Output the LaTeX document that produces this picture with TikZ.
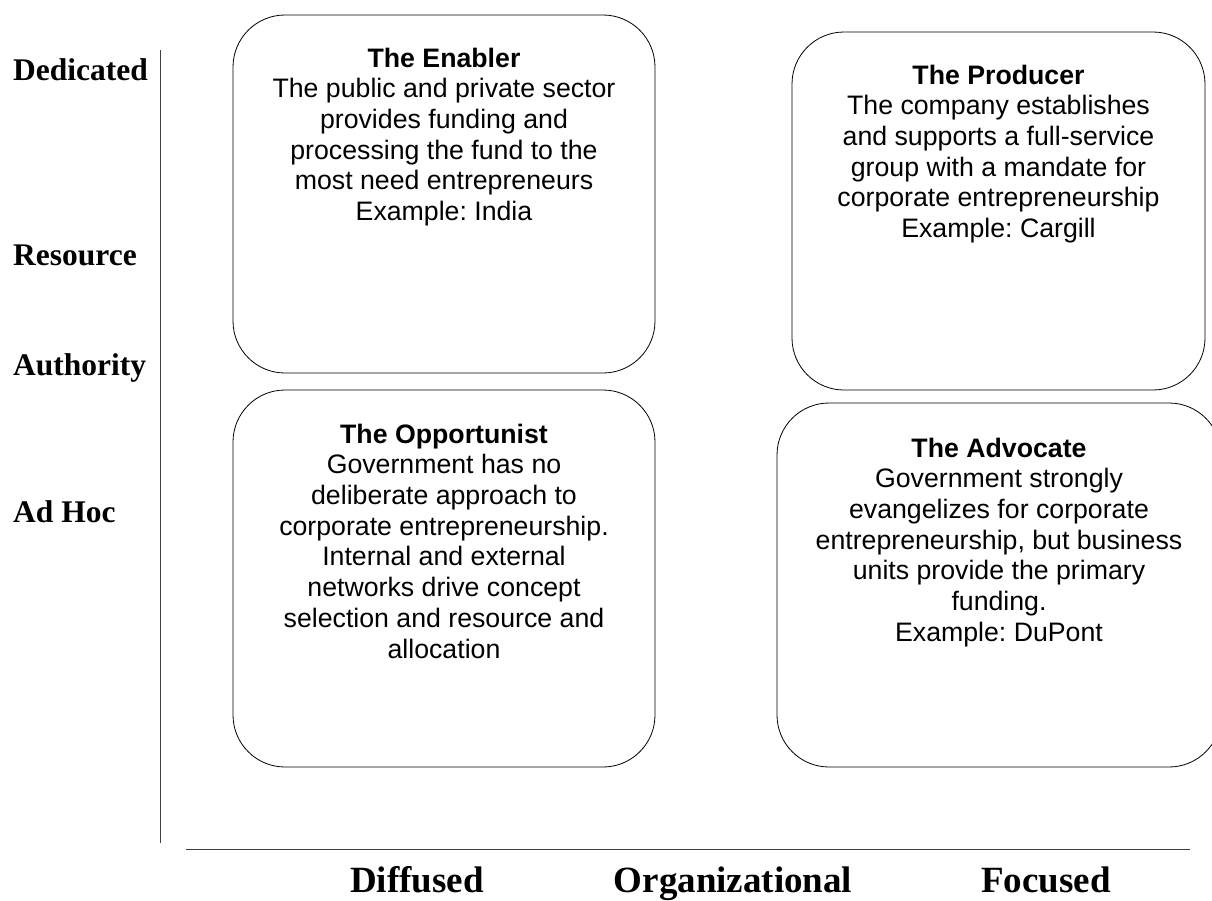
\documentclass[tikz,border=0pt]{standalone}
\usepackage{fontspec}
\setmainfont{Liberation Sans}
\newfontfamily\labelfont{Liberation Serif}
\frenchspacing
\tikzset{
  quad/.style={draw=black, line width=0.8pt, rounded corners=52pt, inner sep=0pt},
  boxtext/.style={anchor=north, align=center, inner sep=0pt, font=\fontsize{26.7}{30.7}\selectfont},
  axislabel/.style={font=\labelfont\bfseries\fontsize{31.5}{36}\selectfont, inner sep=0pt, anchor=base west},
  xlabel/.style={font=\labelfont\bfseries\fontsize{37}{42}\selectfont, inner sep=0pt, anchor=base},
  axisline/.style={line width=1pt, draw=black!75}
}
\begin{document}
\begin{tikzpicture}[x=1pt,y=-1pt]
\useasboundingbox (0,0) rectangle (1212,900);
\clip (0,0) rectangle (1212,900);

% quadrant boxes
\node[quad, minimum width=422pt, minimum height=358pt] (enabler) at (444,194) {};
\node[quad, minimum width=413pt, minimum height=358pt] (producer) at (998.5,211) {};
\node[quad, minimum width=422pt, minimum height=377pt] (opportunist) at (444,578.5) {};
\node[quad, minimum width=444pt, minimum height=364pt] (advocate) at (999,585) {};

% box texts
\node[boxtext] (enablerT) at ([yshift=-33pt]enabler.north)
  {\textbf{The Enabler}\\The public and private sector\\provides funding and\\processing the fund to the\\most need entrepreneurs\\Example: India};
\node[boxtext] (producerT) at ([yshift=-33pt]producer.north)
  {\textbf{The Producer}\\The company establishes\\and supports a full-service\\group with a mandate for\\corporate entrepreneurship\\Example: Cargill};
\node[boxtext] (opportunistT) at ([yshift=-34pt]opportunist.north)
  {\textbf{The Opportunist}\\Government has no\\deliberate approach to\\corporate entrepreneurship.\\Internal and external\\networks drive concept\\selection and resource and\\allocation};
\node[boxtext] (advocateT) at ([yshift=-35pt]advocate.north)
  {\textbf{The Advocate}\\Government strongly\\evangelizes for corporate\\entrepreneurship, but business\\units provide the primary\\funding.\\Example: DuPont};

% axes
\coordinate (vtop) at (160,50);
\coordinate (vbot) at (160,843);
\coordinate (hleft) at (186,849);
\coordinate (hright) at (1190,849);
\draw[axisline] (vtop) -- (vbot);
\draw[axisline] (hleft) -- (hright);

% vertical axis labels
\node[axislabel] (ded) at (13,80) {Dedicated};
\node[axislabel] (res) at (13,265) {Resource};
\node[axislabel] (aut) at (13,375) {Authority};
\node[axislabel] (adh) at (13,522) {Ad Hoc};

% horizontal axis labels
\node[xlabel] (dif) at (417,892) {Diffused};
\node[xlabel] (org) at (733,892) {Organizational};
\node[xlabel] (foc) at (1046,892) {Focused};
\end{tikzpicture}
\end{document}
